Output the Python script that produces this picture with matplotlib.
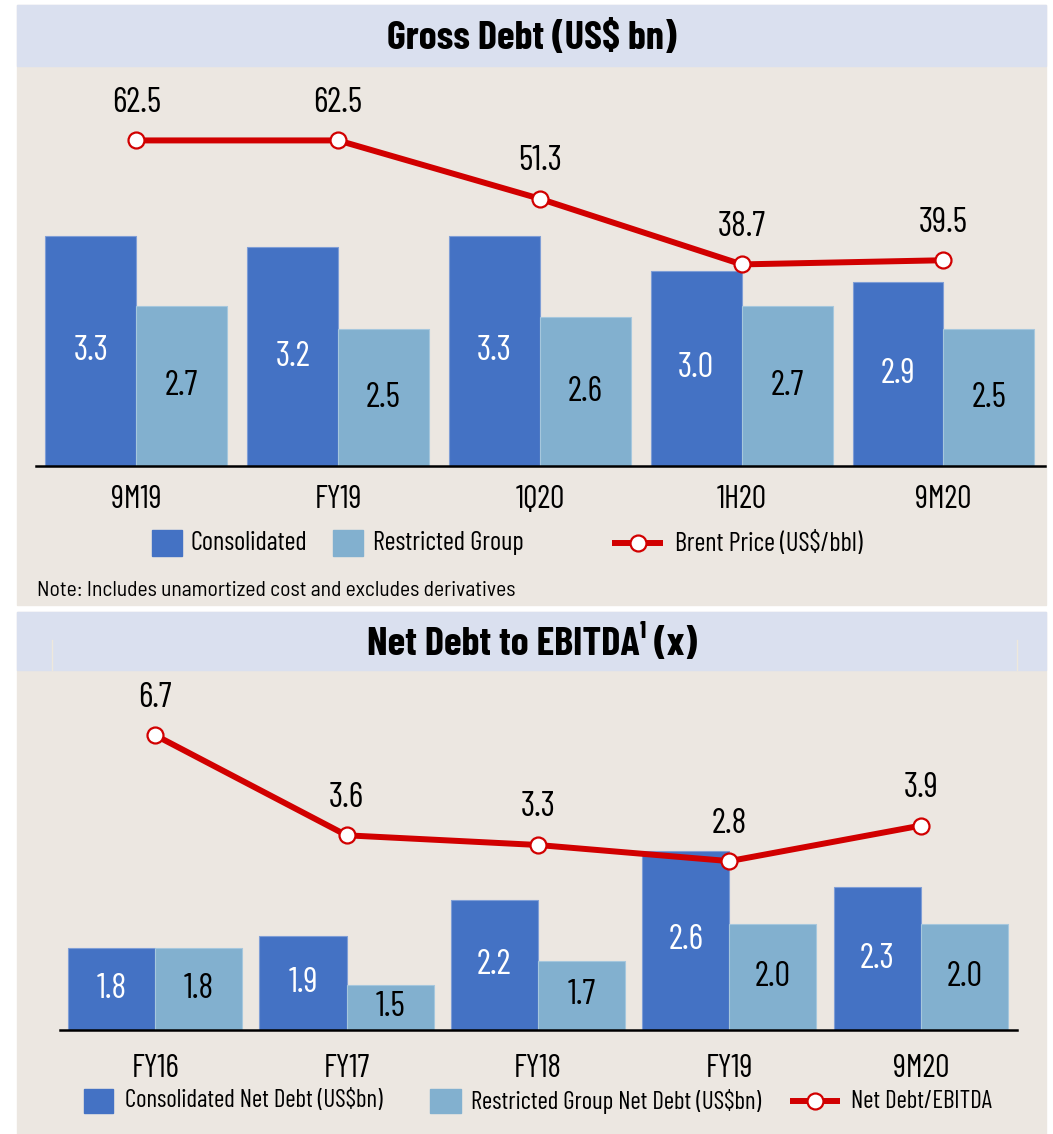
import numpy as np
import matplotlib
matplotlib.use("Agg")
import matplotlib.pyplot as plt
from matplotlib.patches import Rectangle
from matplotlib.lines import Line2D

plt.rcParams['font.family'] = ['Barlow Condensed', 'DejaVu Sans']

# Gross debt data
gd_periods = ["9M19", "FY19", "1Q20", "1H20", "9M20"]
gd_consolidated = [3.3, 3.2, 3.3, 3.0, 2.9]
gd_restricted = [2.7, 2.5, 2.6, 2.7, 2.5]
brent_price = [62.5, 62.5, 51.3, 38.7, 39.5]

# Net debt / EBITDA data
nd_periods = ["FY16", "FY17", "FY18", "FY19", "9M20"]
nd_consolidated = [1.8, 1.9, 2.2, 2.6, 2.3]
nd_restricted = [1.8, 1.5, 1.7, 2.0, 2.0]
nd_ebitda = [6.7, 3.6, 3.3, 2.8, 3.9]

BLUE = "#4472C4"
LBLUE = "#82B0CF"
RED = "#D10000"
BG = "#ECE7E1"
HEAD = "#DAE0EF"

W, H = 1053, 1134
fig = plt.figure(figsize=(W / 100, H / 100), dpi=100)


def fx(px):
    return px / W


def fy(py):
    return 1 - py / H


def frect(x0, y0, x1, y1, color, z=-2):
    fig.patches.append(Rectangle((fx(x0), fy(y1)), fx(x1) - fx(x0), fy(y0) - fy(y1),
                                 transform=fig.transFigure, color=color, zorder=z))


# panel backgrounds and header bands
frect(17, 5, 1046, 605, BG)
frect(17, 5, 1046, 66, HEAD)
frect(17, 612, 1046, 1134, BG)
frect(17, 612, 1046, 670, HEAD)
for xl in (52, 1017):
    fig.add_artist(Line2D([fx(xl), fx(xl)], [fy(640), fy(670)], transform=fig.transFigure,
                          color="#EEE8DC", lw=1, zorder=-1))

fig.text(fx(532), fy(38), "Gross Debt (US$ bn)", ha="center", va="center",
         fontsize=29, fontweight="bold")
fig.text(fx(532), fy(643), "Net Debt to EBITDA\u00b9 (x)", ha="center", va="center",
         fontsize=29, fontweight="bold")


def draw_panel(rect, periods, cons, restr, line, ylim_bar, ylim_line, width, pad):
    ax = fig.add_axes(rect)
    ax.set_facecolor("none")
    x = np.arange(len(periods))
    ax.bar(x - width / 2, cons, width, color=BLUE, edgecolor="#7F9ED6", linewidth=0.8)
    ax.bar(x + width / 2, restr, width, color=LBLUE, edgecolor="#A6C7DD", linewidth=0.8)
    ax.set_ylim(*ylim_bar)
    ax.set_xlim(-0.497, len(periods) - 0.497)
    for xi, v in zip(x, cons):
        ax.text(xi - width / 2, (ylim_bar[0] + v) / 2, f"{v:.1f}", ha="center", va="center",
                color="white", fontsize=25)
    for xi, v in zip(x, restr):
        ax.text(xi + width / 2, (ylim_bar[0] + v) / 2, f"{v:.1f}", ha="center", va="center",
                color="black", fontsize=25)
    for s in ("top", "left", "right"):
        ax.spines[s].set_visible(False)
    ax.spines["bottom"].set_linewidth(1.8)
    ax.set_yticks([])
    ax.set_xticks(x, periods, fontsize=23)
    ax.tick_params(axis="x", length=0, pad=pad)

    ax2 = ax.twinx()
    ax2.set_ylim(*ylim_line)
    ax2.axis("off")
    ax2.plot(x, line, color=RED, lw=4.3, marker="o", ms=11.5, mfc="white", mec=RED,
             mew=1.6, solid_capstyle="butt")
    for xi, v in zip(x, line):
        ax2.annotate(f"{v:.1f}", (xi, v), xytext=(0, 27), textcoords="offset points",
                     ha="center", va="center", fontsize=25)
    return ax


draw_panel([fx(36), fy(466), fx(1045) - fx(36), fy(80) - fy(466)],
           gd_periods, gd_consolidated, gd_restricted, brent_price,
           (1.33, 4.63), (0, 74.1), 0.45, 14)
draw_panel([fx(60), fy(1030), fx(1017) - fx(60), fy(690) - fy(1030)],
           nd_periods, nd_consolidated, nd_restricted, nd_ebitda,
           (1.13, 3.92), (-2.43, 8.1), 0.455, 17)


def legend_row(yc, items, fontsize, ph):
    for kind, x0, x1, tx, label in items:
        if kind == "line":
            fig.add_artist(Line2D([fx(x0), fx(x1)], [fy(yc), fy(yc)], transform=fig.transFigure,
                                  color=RED, lw=4.3, solid_capstyle="butt"))
            fig.add_artist(Line2D([fx((x0 + x1) / 2)], [fy(yc)], transform=fig.transFigure,
                                  marker="o", ms=11.5, mfc="white", mec=RED, mew=1.6))
        else:
            frect(x0, yc - ph / 2, x1, yc + ph / 2, kind, z=1)
        fig.text(fx(tx), fy(yc), label, ha="left", va="center", fontsize=fontsize)


legend_row(543, [(BLUE, 152, 182, 190, "Consolidated"),
                 (LBLUE, 333, 363, 373, "Restricted Group"),
                 ("line", 612, 663, 675, "Brent Price (US$/bbl)")], 19, 26)
legend_row(1101, [(BLUE, 84, 113, 125, "Consolidated Net Debt (US$bn)"),
                  (LBLUE, 430, 461, 471, "Restricted Group Net Debt (US$bn)"),
                  ("line", 790, 840, 851, "Net Debt/EBITDA")], 18, 24)

fig.text(fx(37), fy(591), "Note: Includes unamortized cost and excludes derivatives",
         ha="left", va="center", fontsize=15.5, family=["Barlow Semi Condensed", "DejaVu Sans"])

fig.savefig("out.png", dpi=100)
